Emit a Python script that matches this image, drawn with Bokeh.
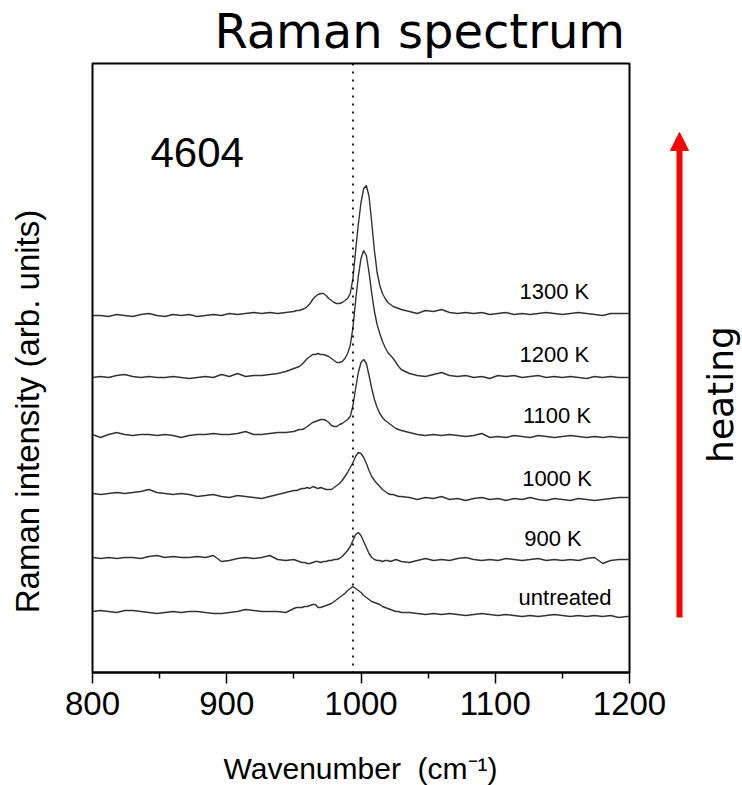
from bokeh.plotting import figure
from bokeh.layouts import row, column
from bokeh.models import Label, Span, Arrow, NormalHead, FixedTicker, Range1d
from bokeh.embed import file_html
from bokeh.resources import INLINE

# Wavenumber sampling (cm^-1): coarse on the flat wings, fine across the peak region
wavenumber = list(range(800, 945, 6)) + list(range(950, 1031, 2)) + list(range(1036, 1199, 6)) + [1200]

# Stacked Raman spectra, intensity in arbitrary units (offsets included)
untreated = [61, 62, 61, 60, 62, 62, 61, 60, 59, 60, 61, 60, 61, 61, 60, 59, 59, 60, 61, 63, 62, 61, 61, 61, 60,
             64, 65, 65, 65, 66, 66, 67, 68, 68, 65, 65, 66, 67, 68, 69, 71, 73, 75, 77, 79, 82, 84, 86, 84, 82, 80,
             77, 75, 73, 71, 70, 69, 68, 66, 65, 64, 63, 62, 61, 61, 60,
             60, 59, 58, 59, 58, 59, 58, 57, 58, 59, 58, 57, 58, 57, 56, 57, 56, 57, 58, 57, 56, 57, 56, 57, 56, 57, 55, 56, 56]
k900 = [115, 114, 115, 114, 115, 115, 114, 116, 117, 115, 116, 115, 115, 116, 115, 117, 111, 112, 114, 115, 114, 115, 117, 113, 112,
        113, 112, 111, 110, 110, 109, 109, 110, 111, 111, 110, 111, 111, 112, 112, 113, 113, 114, 116, 119, 122, 126, 132, 138, 140, 137,
        131, 125, 119, 115, 113, 112, 112, 111, 112, 112, 111, 112, 113, 112, 111,
        110, 112, 114, 112, 113, 112, 114, 115, 113, 112, 113, 112, 114, 113, 112, 113, 114, 112, 113, 112, 113, 112, 114, 115, 109, 112, 113, 113, 113]
k1000 = [179, 178, 179, 180, 179, 180, 181, 183, 180, 179, 178, 179, 178, 176, 177, 178, 176, 175, 177, 176, 175, 174, 176, 178, 180,
         182, 182, 183, 184, 184, 185, 184, 186, 185, 184, 185, 184, 183, 183, 183, 185, 187, 189, 192, 196, 200, 205, 210, 216, 220, 219,
         215, 209, 202, 196, 192, 189, 186, 183, 181, 179, 178, 178, 177, 176, 176,
         175, 173, 175, 174, 176, 173, 174, 172, 174, 175, 173, 174, 172, 174, 173, 175, 173, 172, 174, 173, 172, 174, 173, 172, 173, 174, 175, 175, 175]
k1100 = [238, 235, 238, 240, 238, 237, 238, 238, 237, 238, 237, 235, 237, 238, 238, 239, 238, 238, 239, 241, 238, 238, 239, 240, 240,
         241, 242, 243, 243, 244, 246, 248, 250, 251, 252, 253, 253, 252, 250, 247, 246, 246, 248, 249, 251, 253, 256, 267, 284, 300, 310,
         313, 309, 297, 284, 273, 265, 259, 255, 252, 250, 248, 246, 244, 243, 242,
         240, 238, 237, 238, 237, 238, 237, 236, 237, 239, 235, 236, 235, 237, 236, 235, 237, 236, 235, 236, 237, 236, 235, 236, 235, 236, 235, 235, 235]
k1200 = [295, 296, 295, 297, 298, 296, 295, 296, 295, 295, 296, 295, 294, 295, 296, 295, 298, 296, 299, 296, 297, 297, 298, 299, 301,
         304, 305, 306, 308, 311, 314, 316, 318, 318, 319, 318, 318, 317, 316, 314, 312, 310, 310, 311, 314, 319, 327, 345, 372, 396, 414,
         422, 417, 400, 379, 361, 348, 339, 331, 325, 320, 317, 314, 310, 306, 303,
         299, 297, 296, 298, 300, 297, 296, 297, 295, 296, 294, 297, 296, 297, 295, 296, 297, 295, 296, 295, 296, 295, 294, 296, 295, 296, 295, 295, 295]
k1300 = [357, 357, 356, 358, 357, 356, 358, 359, 357, 356, 358, 357, 358, 356, 357, 358, 357, 359, 358, 359, 360, 359, 360, 359, 360,
         361, 362, 362, 363, 364, 366, 369, 373, 376, 378, 379, 379, 377, 374, 372, 370, 369, 369, 370, 372, 374, 379, 394, 422, 448, 470,
         484, 487, 476, 450, 422, 400, 387, 379, 374, 370, 368, 366, 365, 364, 363,
         361, 359, 362, 361, 363, 360, 359, 360, 359, 360, 358, 359, 360, 358, 359, 358, 359, 360, 359, 358, 359, 360, 359, 358, 357, 359, 359, 359, 359]

spectra = [untreated, k900, k1000, k1100, k1200, k1300]
trace_labels = ["untreated", "900 K", "1000 K", "1100 K", "1200 K", "1300 K"]
label_x = [1152, 1143, 1146, 1146, 1144, 1144]
label_y = [75, 134, 194, 257, 318, 381]

x_ticks = [800, 900, 1000, 1100, 1200]
x_minor = [850, 950, 1050, 1150]
reference_line = 994
sample_name = "4604"

TITLE = "Raman spectrum"
X_TITLE = "Wavenumber\u00a0 (cm\u207b\u00b9)"
Y_TITLE = "Raman intensity (arb. units)"
ARROW_TEXT = "heating"

SIDE = 40          # border kept on each side of the spectrum frame
LEFT_W = 52        # strip holding the intensity title
RIGHT_W = 73       # strip holding the heating arrow
MAIN_W = SIDE + 537 + SIDE


def blank(width, height, x_range, y_range):
    """A bare canvas used for the text and arrow around the spectrum panel."""
    f = figure(width=width, height=height, output_backend="svg", toolbar_location=None,
               x_range=Range1d(*x_range), y_range=Range1d(*y_range),
               x_axis_location=None, y_axis_location=None, min_border=0,
               background_fill_color="white", border_fill_color="white")
    f.grid.visible = False
    f.outline_line_color = None
    return f


# --- spectrum panel ---------------------------------------------------------
p = figure(width=MAIN_W, height=670, output_backend="svg", toolbar_location=None,
           x_range=Range1d(800, 1200), y_range=Range1d(0, 609), y_axis_location=None,
           min_border_left=SIDE, min_border_right=SIDE, min_border_top=1, min_border_bottom=60,
           background_fill_color="white", border_fill_color="white")
p.grid.visible = False
p.outline_line_color = "black"
p.outline_line_width = 2

for ys in spectra:
    p.line(wavenumber, ys, line_color="#333333", line_width=1.4)

p.add_layout(Span(location=reference_line, dimension="height", line_color="black",
                  line_width=1.7, line_dash="2 6"))

for txt, lx, ly in zip(trace_labels, label_x, label_y):
    p.add_layout(Label(x=lx, y=ly, text=txt, text_align="center", text_baseline="alphabetic",
                       text_font="Liberation Sans", text_font_size="22px", text_color="black"))

p.add_layout(Label(x=878, y=520, text=sample_name, text_align="center", text_baseline="alphabetic",
                   text_font="Liberation Sans", text_font_size="42px", text_color="black"))

xa = p.xaxis[0]
xa.ticker = FixedTicker(ticks=x_ticks, minor_ticks=x_minor)
xa.axis_line_width = 2
xa.axis_line_color = "black"
xa.major_tick_in = 0
xa.major_tick_out = 11
xa.minor_tick_in = 0
xa.minor_tick_out = 6
xa.major_tick_line_width = 1.5
xa.minor_tick_line_width = 1.5
xa.major_tick_line_color = "black"
xa.minor_tick_line_color = "black"
xa.major_label_text_font = "Liberation Sans Narrow, Liberation Sans"
xa.major_label_text_font_size = "33px"
xa.major_label_text_color = "black"
xa.major_label_standoff = 8

# --- surrounding texts and the heating arrow ---------------------------------
top = blank(MAIN_W, 62, (0, MAIN_W), (0, 62))
top.add_layout(Label(x=376, y=32, text=TITLE, text_align="center", text_baseline="alphabetic",
                     text_font="DejaVu Sans", text_font_size="48px", text_color="black"))

bottom = blank(MAIN_W, 53, (0, MAIN_W), (0, 53))
bottom.add_layout(Label(x=308, y=17, text=X_TITLE, text_align="center", text_baseline="alphabetic",
                        text_font="Liberation Sans", text_font_size="30px", text_color="black"))

left = blank(LEFT_W, 785, (0, LEFT_W), (0, 785))
left.add_layout(Label(x=27, y=374, text=Y_TITLE, angle=1.5708, text_align="center",
                      text_baseline="middle", text_font="Liberation Sans", text_font_size="33px",
                      text_color="black"))

right = blank(RIGHT_W, 785, (0, RIGHT_W), (0, 785))
right.add_layout(Arrow(x_start=10, y_start=168, x_end=10, y_end=653,
                       line_color="red", line_width=6,
                       end=NormalHead(size=18, fill_color="red", line_color="red", line_width=1)))
right.add_layout(Label(x=51, y=391, text=ARROW_TEXT, angle=1.5708, text_align="center",
                       text_baseline="middle", text_font="DejaVu Sans",
                       text_font_size="36px", text_color="black"))

layout = row(left, column(top, p, bottom), right)
open("out.html", "w").write(file_html(layout, INLINE))
